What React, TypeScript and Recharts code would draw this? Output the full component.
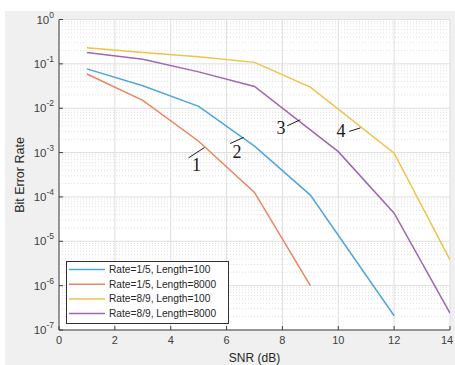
import React from 'react';
import { LineChart, Line, XAxis, YAxis, CartesianGrid, ReferenceLine, ReferenceDot, Legend } from 'recharts';

// ---- data ----
const xTicks = [0, 2, 4, 6, 8, 10, 12, 14];
const yTicks = [1e-7, 1e-6, 1e-5, 1e-4, 1e-3, 1e-2, 1e-1, 1];
const minorSteps = [2, 3, 4, 5, 6, 7, 8, 9];

const seriesNames = [
  'Rate=1/5, Length=100',
  'Rate=1/5, Length=8000',
  'Rate=8/9, Length=100',
  'Rate=8/9, Length=8000',
];
const seriesColors = ['#4ea6dc', '#ea8560', '#f0c24a', '#a066b4'];

const r15L100Snr = [1, 3, 5, 7, 9, 12];
const r15L100Ber = [0.077, 0.032, 0.011, 0.0014, 1.1e-4, 2.1e-7];

const r15L8000Snr = [1, 3, 5, 7, 9];
const r15L8000Ber = [0.059, 0.015, 0.0018, 1.26e-4, 1e-6];

const r89L100Snr = [1, 3, 5, 7, 9, 12, 14];
const r89L100Ber = [0.23, 0.18, 0.145, 0.108, 0.03, 9.7e-4, 3.8e-6];

const r89L8000Snr = [1, 3, 5, 7, 10, 12, 14];
const r89L8000Ber = [0.18, 0.127, 0.066, 0.031, 1.05e-3, 4.3e-5, 2.4e-7];

// annotation labels: line start, line end, text position (data units)
const annLabels = ['1', '2', '3', '4'];
const annLineX1 = [4.64, 6.13, 8.17, 10.39];
const annLineY1 = [7.6e-4, 1.6e-3, 4.0e-3, 3.0e-3];
const annLineX2 = [5.21, 6.61, 8.64, 10.79];
const annLineY2 = [1.3e-3, 2.2e-3, 5.5e-3, 3.6e-3];
const annTextX = [4.92, 6.37, 7.95, 10.1];
const annTextY = [5.3e-4, 1.05e-3, 3.6e-3, 3.1e-3];

const zip = (xs: number[], ys: number[]) => xs.map((x, i) => ({ x, y: ys[i] }));
const seriesData = [
  zip(r15L100Snr, r15L100Ber),
  zip(r15L8000Snr, r15L8000Ber),
  zip(r89L100Snr, r89L100Ber),
  zip(r89L8000Snr, r89L8000Ber),
];

const yMinor: number[] = [];
yTicks.slice(0, -1).forEach((d) => minorSteps.forEach((m) => yMinor.push(d * m)));

const FONT = '"Liberation Sans", Arial, Helvetica, sans-serif';
const AX = '#404040';

const YTick = (props: any) => {
  const { x, y, payload } = props;
  const e = Math.round(Math.log10(payload.value));
  return (
    <text x={x} y={y} textAnchor="end" fill={AX} fontSize={11.5} fontFamily={FONT}>
      <tspan dy={4}>10</tspan>
      <tspan dy={-6} fontSize={8.5}>{e}</tspan>
    </text>
  );
};

const XTick = (props: any) => {
  const { x, y, payload } = props;
  return (
    <text x={x} y={y} dy={14} textAnchor="middle" fill={AX} fontSize={11} fontFamily={FONT}>
      {payload.value}
    </text>
  );
};

const LegendBox = () => (
  <svg width={163} height={63} style={{ display: 'block' }}>
    <rect x={0.5} y={0.5} width={162} height={62} fill="#fff" stroke="#303030" strokeWidth={1} />
    {seriesNames.map((n, i) => {
      const cy = 8.5 + i * 14.7;
      return (
        <g key={n}>
          <line x1={3} x2={39} y1={cy} y2={cy} stroke={seriesColors[i]} strokeWidth={1.5} />
          <text x={43} y={cy} dominantBaseline="central" fontSize={10.2} fontFamily={FONT} fill="#262626">
            {n}
          </text>
        </g>
      );
    })}
  </svg>
);

export default function App() {
  return (
    <div style={{ position: 'absolute', left: 0, top: 0, width: 455, height: 365, background: '#fff', overflow: 'hidden' }}>
      <div style={{ position: 'absolute', left: 5, top: 11, width: 450, height: 354, background: '#f0f0f0' }} />
      <div style={{ position: 'absolute', left: 0, top: 0 }}>
        <LineChart width={455} height={365} margin={{ top: 19.5, right: 5, bottom: 5, left: 9 }}>
          <CartesianGrid stroke="#dedede" fill="#ffffff" />
          {yMinor.map((v) => (
            <ReferenceLine key={'m' + v} y={v} stroke="#e2e2e2" strokeDasharray="1 2" strokeWidth={1} />
          ))}
          <XAxis
            dataKey="x"
            type="number"
            domain={[0, 14]}
            ticks={xTicks}
            allowDataOverflow
            height={30}
            stroke={AX}
            tickSize={-4}
            tickMargin={4}
            tick={<XTick />}
          />
          <XAxis
            xAxisId="top"
            orientation="top"
            type="number"
            domain={[0, 14]}
            ticks={xTicks}
            height={0}
            stroke={AX}
            tickSize={-4}
            tick={false}
          />
          <YAxis
            scale="log"
            type="number"
            domain={[1e-7, 1]}
            ticks={yTicks}
            allowDataOverflow
            width={50}
            stroke={AX}
            tickSize={-4}
            tickMargin={9}
            tick={<YTick />}
          />
          <YAxis
            yAxisId="right"
            orientation="right"
            scale="log"
            type="number"
            domain={[1e-7, 1]}
            ticks={yTicks}
            allowDataOverflow
            width={0}
            stroke={AX}
            tickSize={-4}
            tick={false}
          />
          <YAxis
            yAxisId="minorL"
            scale="log"
            type="number"
            domain={[1e-7, 1]}
            ticks={yMinor}
            interval={0}
            allowDataOverflow
            width={0}
            axisLine={false}
            stroke={AX}
            tickSize={-2}
            tick={false}
          />
          <YAxis
            yAxisId="minorR"
            orientation="right"
            scale="log"
            type="number"
            domain={[1e-7, 1]}
            ticks={yMinor}
            interval={0}
            allowDataOverflow
            width={0}
            axisLine={false}
            stroke={AX}
            tickSize={-2}
            tick={false}
          />
          {seriesData.map((d, i) => (
            <Line
              key={seriesNames[i]}
              data={d}
              dataKey="y"
              name={seriesNames[i]}
              stroke={seriesColors[i]}
              strokeWidth={1.5}
              dot={false}
              isAnimationActive={false}
            />
          ))}
          {annLabels.map((l, i) => (
            <ReferenceLine
              key={'al' + l}
              segment={[
                { x: annLineX1[i], y: annLineY1[i] },
                { x: annLineX2[i], y: annLineY2[i] },
              ]}
              stroke="#1a1a1a"
              strokeWidth={1}
            />
          ))}
          {annLabels.map((l, i) => (
            <ReferenceDot
              key={'at' + l}
              x={annTextX[i]}
              y={annTextY[i]}
              r={0}
              shape={(p: any) => (
                <text
                  x={p.cx}
                  y={p.cy}
                  textAnchor="middle"
                  dominantBaseline="central"
                  fontFamily='"Liberation Serif", "Times New Roman", serif'
                  fontSize={18}
                  fill="#1a1a1a"
                >
                  {l}
                </text>
              )}
            />
          ))}
          <Legend
            layout="vertical"
            align="center"
            verticalAlign="middle"
            wrapperStyle={{ left: 66, top: 261, width: 163, height: 63 }}
            content={() => <LegendBox />}
          />
        </LineChart>
      </div>
      <svg width={455} height={365} style={{ position: 'absolute', left: 0, top: 0, pointerEvents: 'none' }}>
        <text
          x={20}
          y={175}
          transform="rotate(-90 20 175)"
          textAnchor="middle"
          dominantBaseline="central"
          fontFamily={FONT}
          fontSize={12.5}
          fill="#262626"
        >
          Bit Error Rate
        </text>
        <text x={254.5} y={362} textAnchor="middle" fontFamily={FONT} fontSize={12} fill="#262626">
          SNR (dB)
        </text>
      </svg>
    </div>
  );
}
